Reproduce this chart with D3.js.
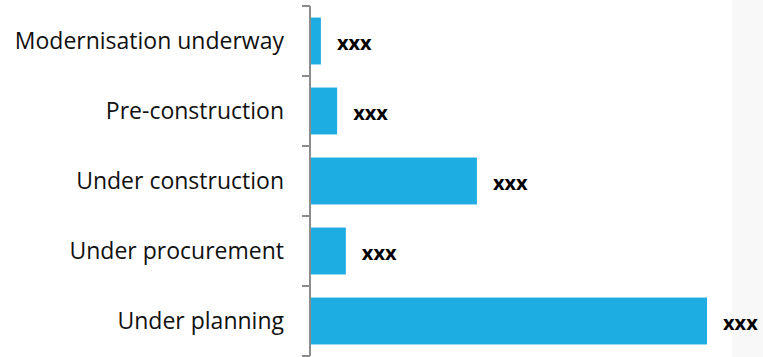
<!DOCTYPE html>
<html>
<head>
<meta charset="utf-8">
<script src="https://cdn.jsdelivr.net/npm/d3@7"></script>
<style>
  html, body { margin: 0; padding: 0; background: #ffffff; }
  svg { display: block; }
</style>
</head>
<body>
<svg id="chart" width="763" height="357"></svg>
<script>
const categories = ["Modernisation underway", "Pre-construction", "Under construction", "Under procurement", "Under planning"];
const values = [2.5, 6.6, 41.9, 8.8, 100];
const valueLabels = ["xxx", "xxx", "xxx", "xxx", "xxx"];

const W = 763, H = 357;
const svg = d3.select("#chart");

// light panel at right edge
svg.append("rect").attr("x", 732).attr("y", 0).attr("width", W - 732).attr("height", H).attr("fill", "#f8f8f8");

const x0 = 311;
const x = d3.scaleLinear().domain([0, 100]).range([x0, 707]);
const y = d3.scaleBand().domain(categories).range([6, 356]).paddingInner(0.33).paddingOuter(0.165);

// bars
svg.selectAll("rect.bar").data(categories).enter().append("rect")
  .attr("class", "bar")
  .attr("x", x(0))
  .attr("y", d => y(d))
  .attr("width", (d, i) => x(values[i]) - x(0))
  .attr("height", y.bandwidth())
  .attr("fill", "#1eade3");

// axis
const yAxisScale = d3.scaleLinear().domain([0, categories.length]).range([6, 356]);
const axisG = svg.append("g").attr("transform", `translate(${x0 - 1},0)`);
axisG.append("line").attr("x1", 0).attr("x2", 0).attr("y1", 6).attr("y2", 356)
  .attr("stroke", "#8c8c8c").attr("stroke-width", 2);
axisG.selectAll("line.tick").data(d3.range(categories.length + 1)).enter().append("line")
  .attr("class", "tick")
  .attr("x1", -8).attr("x2", 0)
  .attr("y1", d => yAxisScale(d)).attr("y2", d => yAxisScale(d))
  .attr("stroke", "#8c8c8c").attr("stroke-width", 2);

// category labels
svg.selectAll("text.cat").data(categories).enter().append("text")
  .attr("class", "cat")
  .attr("x", 284)
  .attr("y", d => y(d) + y.bandwidth() / 2)
  .attr("dy", "0.35em")
  .attr("text-anchor", "end")
  .attr("font-family", "'Open Sans', sans-serif")
  .attr("font-size", 23)
  .attr("fill", "#111")
  .text(d => d);

// value labels
svg.selectAll("text.val").data(categories).enter().append("text")
  .attr("class", "val")
  .attr("x", (d, i) => x(values[i]) + 16)
  .attr("y", d => y(d) + y.bandwidth() / 2 + 2)
  .attr("dy", "0.35em")
  .attr("font-family", "'Open Sans', sans-serif")
  .attr("font-weight", "bold")
  .attr("font-size", 20)
  .attr("fill", "#000")
  .text((d, i) => valueLabels[i]);
</script>
</body>
</html>
